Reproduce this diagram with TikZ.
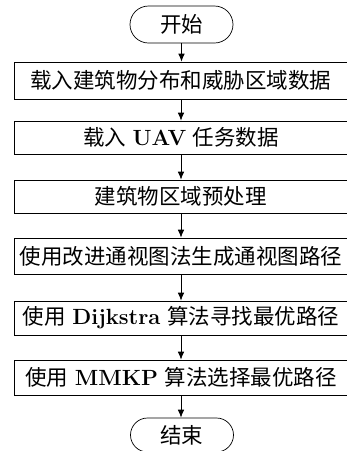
\documentclass[tikz,border=0pt]{standalone}
\usepackage{fontspec}
\newfontfamily\cjk{Noto Sans CJK SC}
\usetikzlibrary{arrows.meta,shapes.misc}
\newcommand{\lat}[1]{{\bfseries\fontsize{22}{24}\selectfont #1}}
\begin{document}
\begin{tikzpicture}[x=1pt,y=-1pt,
  stepbox/.style={draw=black,line width=0.7pt,minimum width=334pt,inner sep=0pt,font=\fontsize{21.5}{24}\selectfont},
  term/.style={draw=black,line width=0.7pt,rounded rectangle,minimum width=103pt,minimum height=37pt,inner sep=0pt,font=\fontsize{21.5}{24}\selectfont\cjk},
  flow/.style={line width=0.7pt,-{Latex[length=8pt,width=6.5pt]}}]
\useasboundingbox (0,0) rectangle (347,451);
\node[term] (start) at (181.5,24.5) {开始};
\node[stepbox,minimum height=37pt] (b1) at (181,80.5) {\cjk 载入建筑物分布和威胁区域数据};
\node[stepbox,minimum height=33pt] (b2) at (181,137.5) {{\cjk 载入} \lat{UAV} {\cjk 任务数据}};
\node[stepbox,minimum height=33pt] (b3) at (181,196.5) {\cjk 建筑物区域预处理};
\node[stepbox,minimum height=36pt] (b4) at (181,256) {\cjk 使用改进通视图法生成通视图路径};
\node[stepbox,minimum height=34pt] (b5) at (181,318) {{\cjk 使用} \lat{Dijkstra} {\cjk 算法寻找最优路径}};
\node[stepbox,minimum height=35pt] (b6) at (181,377.5) {{\cjk 使用} \lat{MMKP} {\cjk 算法选择最优路径}};
\node[term,minimum height=34pt] (end) at (182,435) {结束};
\draw[flow] (start.south) -- (start.south |- b1.north);
\draw[flow] (b1.south) -- (b2.north);
\draw[flow] (b2.south) -- (b3.north);
\draw[flow] (b3.south) -- (b4.north);
\draw[flow] (b4.south) -- (b5.north);
\draw[flow] (b5.south) -- (b6.north);
\draw[flow] (b6.south) -- (b6.south |- end.north);
\end{tikzpicture}
\end{document}
